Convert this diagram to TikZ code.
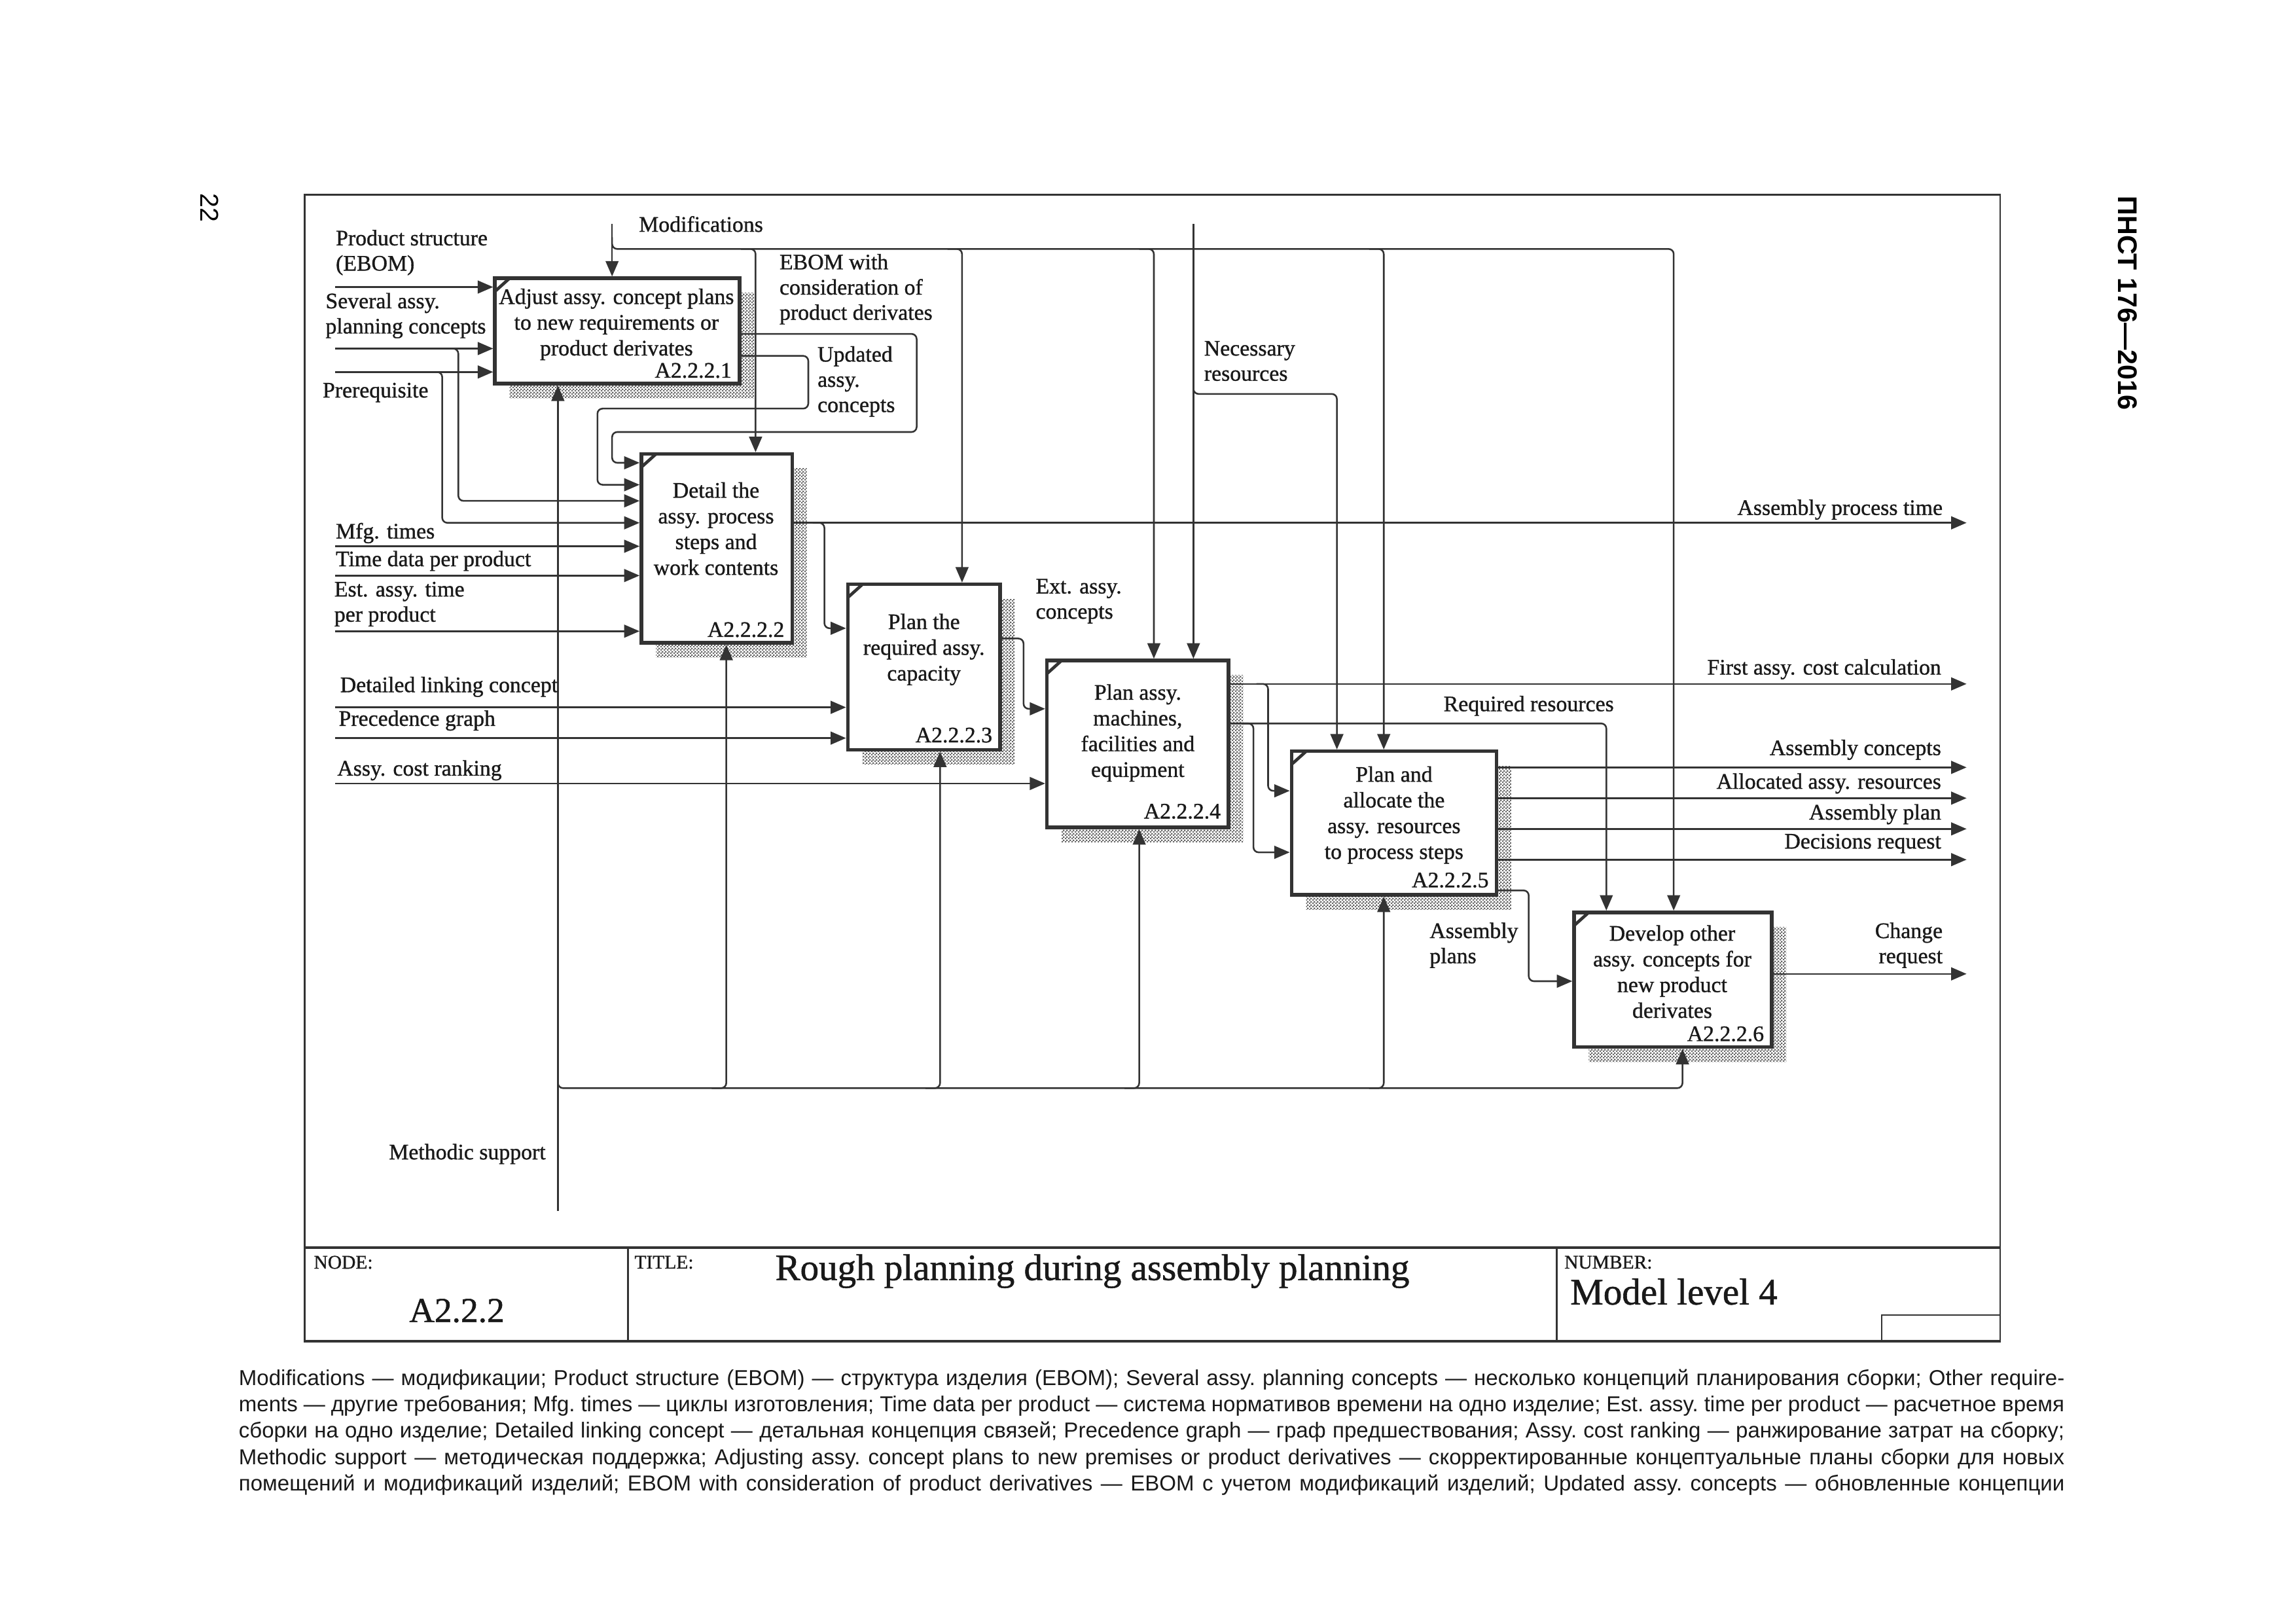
\documentclass[tikz,border=0pt]{standalone}
\usepackage{fontspec}
\setmainfont{Liberation Serif}[FakeBold=1.0]
\newfontfamily\capsans{Liberation Sans}
\usetikzlibrary{arrows.meta,patterns,fit}
\pgfdeclarepatternformonly{finechecker}{\pgfqpoint{0pt}{0pt}}{\pgfqpoint{1.2pt}{1.2pt}}{\pgfqpoint{1.2pt}{1.2pt}}{%
 \pgfpathrectangle{\pgfqpoint{0pt}{0pt}}{\pgfqpoint{0.6pt}{0.6pt}}%
 \pgfpathrectangle{\pgfqpoint{0.6pt}{0.6pt}}{\pgfqpoint{0.6pt}{0.6pt}}%
 \pgfusepath{fill}}
\definecolor{ink}{HTML}{333333}
\tikzset{
 conn/.style={draw=ink, line width=0.65pt, rounded corners=2pt},
 arr/.style={conn, -{Triangle[length=6pt,width=5pt]}},
 lbl/.style={inner sep=0pt, font=\fontsize{8.6}{9.8}\selectfont, text=black!90},
 boxtxt/.style={inner sep=0pt, align=center, font=\fontsize{8.6}{10}\selectfont, text=black!90},
 boxnum/.style={inner sep=0pt, anchor=east, font=\fontsize{8.6}{10}\selectfont, text=black!90},
 boxst/.style={draw=ink, fill=white, line width=1.4pt, inner sep=0pt},
 boxshadow/.style={pattern=finechecker, pattern color=black!60},
 framest/.style={draw=ink, line width=0.7pt},
 tsmall/.style={inner sep=0pt, font=\fontsize{7.5}{9}\selectfont, text=black!90},
 tbig/.style={inner sep=0pt, font=\fontsize{14.5}{16}\selectfont, text=black!90},
}
\newcommand\idefbox[5]{%
 \fill[boxshadow] (#2+10,#3+10) rectangle (#4+10,#5+10);
 \node[boxst, fit={(#2,#3) (#4,#5)}] (#1) {};
 \draw[draw=ink, line width=1.2pt] (#2,#3+9) -- (#2+10,#3);
}
\begin{document}
\begin{tikzpicture}[x=0.02cm, y=-0.02cm]
\useasboundingbox (0,0) rectangle (1568,1108.5);
\fill[white] (0,0) rectangle (1568,1108.5);

% page marks
\node[inner sep=0pt, rotate=-90, font=\capsans\fontsize{10}{12}\selectfont] (pgnum) at (143,142) {22};
\node[inner sep=0pt, rotate=-90, font=\capsans\bfseries\fontsize{10.5}{12}\selectfont] (stdname) at (1453,207) {ПНСТ 176—2016};

% frame and title block
\draw[framest] (208,133) rectangle (1366,916);
\draw[draw=ink, line width=1pt] (208,852) -- (1366,852);
\draw[draw=ink, line width=1pt] (208,916) -- (1366,916);
\draw[framest] (429,852) -- (429,916);
\draw[framest] (1063,852) -- (1063,916);
\draw[framest] (1285,916) -- (1285,898) -- (1366,898);
\node[tsmall, anchor=west] (tnode) at (214,862) {NODE:};
\node[inner sep=0pt, font=\fontsize{13.6}{15}\selectfont, text=black!90] (tnodev) at (312,895) {A2.2.2};
\node[tsmall, anchor=west] (ttitle) at (433,862) {TITLE:};
\node[tbig] (ttitlev) at (746,868) {Rough planning during assembly planning};
\node[tsmall, anchor=west] (tnum) at (1068,862) {NUMBER:};
\node[tbig, anchor=west] (tnumv) at (1072,882) {Model level 4};

% boxes
\idefbox{b1}{338}{190}{505}{262}
\idefbox{b2}{438}{310}{541}{439}
\idefbox{b3}{579}{399}{683}{512}
\idefbox{b4}{715}{451}{839}{565}
\idefbox{b5}{882}{513}{1022}{611}
\idefbox{b6}{1075}{623}{1210}{715}

\node[boxtxt] (t1) at (421,221.5) {Adjust assy. concept plans\\to new requirements or\\product derivates};
\node[boxnum] (n1) at (500,253) {A2.2.2.1};
\node[boxtxt] (t2) at (489,361) {Detail the\\assy. process\\steps and\\work contents};
\node[boxnum] (n2) at (536,430) {A2.2.2.2};
\node[boxtxt] (t3) at (631,443.5) {Plan the\\required assy.\\capacity};
\node[boxnum] (n3) at (678,502) {A2.2.2.3};
\node[boxtxt] (t4) at (777,500.5) {Plan assy.\\machines,\\facilities and\\equipment};
\node[boxnum] (n4) at (834,554) {A2.2.2.4};
\node[boxtxt] (t5) at (952,556.5) {Plan and\\allocate the\\assy. resources\\to process steps};
\node[boxnum] (n5) at (1017,601) {A2.2.2.5};
\node[boxtxt] (t6) at (1142,663.5) {Develop other\\assy. concepts for\\new product\\derivates};
\node[boxnum] (n6) at (1205,706) {A2.2.2.6};

% free ends
\coordinate (inPS) at (229,196);
\coordinate (inSev) at (229,238);
\coordinate (inPre) at (229,254);
\coordinate (inMfg) at (229,373);
\coordinate (inTime) at (229,393);
\coordinate (inEst) at (229,431);
\coordinate (inDet) at (229,483);
\coordinate (inPrec) at (229,504);
\coordinate (inCost) at (229,535);
\coordinate (ctMod) at (418,153);
\coordinate (ctNec) at (815,153);
\coordinate (mcMeth) at (381,827);
\coordinate (outAPT) at (1343,357);
\coordinate (outFirst) at (1343,467);
\coordinate (outAC) at (1343,524);
\coordinate (outAR) at (1343,545);
\coordinate (outAP) at (1343,566);
\coordinate (outDR) at (1343,587);
\coordinate (outCR) at (1343,665);

% inputs box 1
\draw[arr] (inPS) -- (b1.west |- inPS);
\draw[arr] (inSev) -- (b1.west |- inSev);
\draw[arr] (inPre) -- (b1.west |- inPre);
\draw[arr] (305,238) -- (313,238) -- (313,342) -- (b2.west |- 0,342);
\draw[arr] (294,254) -- (302,254) -- (302,357) -- (b2.west |- 0,357);

% controls
\draw[arr] (ctMod) -- (b1.north -| ctMod);
\draw[arr] (418,162) -- (418,170) -- (1143,170) -- (b6.north -| 1143,0);
\foreach \x/\b in {516/b2, 657/b3, 788/b4, 945/b5}
  \draw[arr] (\x-10,170) -- (\x,170) -- (\b.north -| \x,0);
\draw[arr] (ctNec) -- (b4.north -| ctNec);
\draw[arr] (815,261) -- (815,269) -- (913,269) -- (b5.north -| 913,0);

% mechanisms
\draw[arr] (mcMeth) -- (b1.south -| mcMeth);
\draw[arr] (381,735) -- (381,743) -- (1149,743) -- (b6.south -| 1149,0);
\foreach \x/\b in {496/b2, 642/b3, 778/b4, 945/b5}
  \draw[arr] (\x-10,743) -- (\x,743) -- (\b.south -| \x,0);

% box 1 outputs (feedback to box 2)
\draw[arr] (b1.east |- 0,228) -- (626,228) -- (626,295) -- (418,295) -- (418,316) -- (b2.west |- 0,316);
\draw[arr] (b1.east |- 0,243) -- (552,243) -- (552,279) -- (408,279) -- (408,331) -- (b2.west |- 0,331);

% inputs box 2
\draw[arr] (inMfg) -- (b2.west |- inMfg);
\draw[arr] (inTime) -- (b2.west |- inTime);
\draw[arr] (inEst) -- (b2.west |- inEst);

% box 2 outputs
\draw[arr] (b2.east |- outAPT) -- (outAPT);
\draw[arr] (555,357) -- (563,357) -- (563,429) -- (b3.west |- 0,429);

% inputs box 3 / box 4
\draw[arr] (inDet) -- (b3.west |- inDet);
\draw[arr] (inPrec) -- (b3.west |- inPrec);
\draw[arr] (inCost) -- (b4.west |- inCost);

% box 3 output
\draw[arr] (b3.east |- 0,436) -- (699,436) -- (699,484) -- (b4.west |- 0,484);

% box 4 outputs
\draw[arr] (b4.east |- outFirst) -- (outFirst);
\draw[arr] (858,467) -- (866,467) -- (866,540) -- (b5.west |- 0,540);
\draw[arr] (b4.east |- 0,494) -- (1097,494) -- (b6.north -| 1097,0);
\draw[arr] (848,494) -- (856,494) -- (856,582) -- (b5.west |- 0,582);

% box 5 outputs
\draw[arr] (b5.east |- outAC) -- (outAC);
\draw[arr] (b5.east |- outAR) -- (outAR);
\draw[arr] (b5.east |- outAP) -- (outAP);
\draw[arr] (b5.east |- outDR) -- (outDR);
\draw[arr] (b5.east |- 0,608) -- (1044,608) -- (1044,670) -- (b6.west |- 0,670);

% box 6 output
\draw[arr] (b6.east |- outCR) -- (outCR);

% labels
\node[lbl, anchor=west, align=left] (lPS) at (229,172.5) {Product structure\\(EBOM)};
\node[lbl, anchor=west, align=left] (lSev) at (222,215.5) {Several assy.\\planning concepts};
\node[lbl, anchor=west] (lPre) at (220,268) {Prerequisite};
\node[lbl, anchor=west] (lMod) at (436,153) {Modifications};
\node[lbl, anchor=west, align=left] (lEBOM) at (532,197.5) {EBOM with\\consideration of\\product derivates};
\node[lbl, anchor=west, align=left] (lUpd) at (558,260.5) {Updated\\assy.\\concepts};
\node[lbl, anchor=west, align=left] (lNec) at (822,246.5) {Necessary\\resources};
\node[lbl, anchor=west] (lMfg) at (229,364) {Mfg. times};
\node[lbl, anchor=west] (lTime) at (229,383) {Time data per product};
\node[lbl, anchor=west, align=left] (lEst) at (228,412.5) {Est. assy. time\\per product};
\node[lbl, anchor=west] (lDet) at (232,469) {Detailed linking concept};
\node[lbl, anchor=west] (lPrec) at (231,492) {Precedence graph};
\node[lbl, anchor=west] (lCost) at (230,526) {Assy. cost ranking};
\node[lbl, anchor=west, align=left] (lExt) at (707,410.5) {Ext. assy.\\concepts};
\node[lbl, anchor=east] (lAPT) at (1327,348) {Assembly process time};
\node[lbl, anchor=east] (lFirst) at (1326,457) {First assy. cost calculation};
\node[lbl] (lReq) at (1044,482) {Required resources};
\node[lbl, anchor=east] (lAC) at (1326,512) {Assembly concepts};
\node[lbl, anchor=east] (lAR) at (1326,535) {Allocated assy. resources};
\node[lbl, anchor=east] (lAP) at (1326,556) {Assembly plan};
\node[lbl, anchor=east] (lDR) at (1326,576) {Decisions request};
\node[lbl, anchor=west, align=left] (lPlans) at (976,645.5) {Assembly\\plans};
\node[lbl, anchor=east, align=right] (lCR) at (1327,645.5) {Change\\request};
\node[lbl, anchor=east] (lMeth) at (373,788) {Methodic support};

% caption
\node[inner sep=0pt, align=left, font=\capsans\fontsize{8.4}{10.25}\selectfont\frenchspacing, text=black!90] (caption) at (786.5,978) {%
\makebox[24.94cm][s]{Modifications — модификации; Product structure (EBOM) — структура изделия (EBOM); Several assy. planning concepts — несколько концепций планирования сборки; Other require-}\\
\makebox[24.94cm][s]{ments — другие требования; Mfg. times — циклы изготовления; Time data per product — система нормативов времени на одно изделие; Est. assy. time per product — расчетное время}\\
\makebox[24.94cm][s]{сборки на одно изделие; Detailed linking concept — детальная концепция связей; Precedence graph — граф предшествования; Assy. cost ranking — ранжирование затрат на сборку;}\\
\makebox[24.94cm][s]{Methodic support — методическая поддержка; Adjusting assy. concept plans to new premises or product derivatives — скорректированные концептуальные планы сборки для новых}\\
\makebox[24.94cm][s]{помещений и модификаций изделий; EBOM with consideration of product derivatives — EBOM с учетом модификаций изделий; Updated assy. concepts — обновленные концепции}};
\end{tikzpicture}
\end{document}
